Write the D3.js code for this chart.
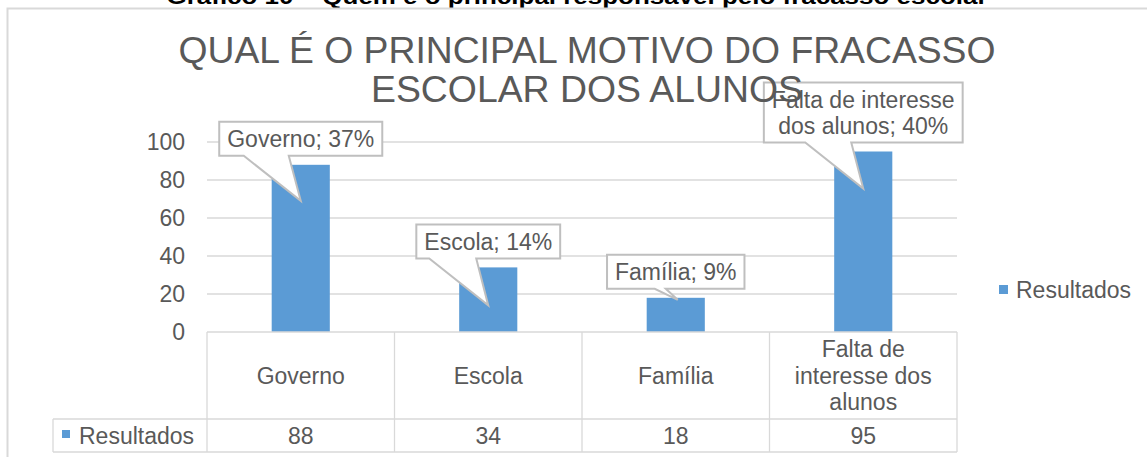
<!DOCTYPE html>
<html>
<head>
<meta charset="utf-8">
<script src="https://cdn.jsdelivr.net/npm/d3@7"></script>
<style>
	body { margin: 0; background: #fff; }
	svg text { font-family: "Liberation Sans", Arial, sans-serif; }
</style>
</head>
<body>
<div id="chart"></div>
<script>
// dados do gráfico
var categories = ["Governo", "Escola", "Família", "Falta de interesse dos alunos"];
var values = [88, 34, 18, 95];
var percents = [37, 14, 9, 40];
var yTicks = [0, 20, 40, 60, 80, 100];
var seriesName = "Resultados";
var titleLines = ["QUAL É O PRINCIPAL MOTIVO DO FRACASSO", "ESCOLAR DOS ALUNOS"];
var caption = "Gráfico 10 – Quem é o principal responsável pelo fracasso escolar";

var W = 1147, H = 457;
var gray = "#595959", gridColor = "#d9d9d9", barColor = "#5b9bd5";
var fs = 23; // tamanho da fonte do eixo / tabela

var svg = d3.select("#chart").append("svg").attr("width", W).attr("height", H);

// legenda de cima (cortada no original) + moldura do gráfico
svg.append("text").attr("x", 577).attr("y", 4).attr("text-anchor", "middle")
	.attr("font-size", 22).attr("font-weight", "bold").attr("fill", "#000")
	.attr("textLength", 821).attr("lengthAdjust", "spacingAndGlyphs").text(caption);
svg.append("path").attr("d", "M7.5," + H + "V8.5H" + W)
	.attr("fill", "none").attr("stroke", gridColor).attr("stroke-width", 2);

var plotLeft = 207, plotRight = 957, plotTop = 142, plotBottom = 332;
var x = d3.scaleBand().domain(categories).range([plotLeft, plotRight]).padding(0);
var y = d3.scaleLinear().domain([0, 100]).range([plotBottom, plotTop]);

// linhas de grade
svg.append("g").selectAll("line").data(yTicks.filter(function(d) { return d > 0; }))
	.enter().append("line")
	.attr("x1", plotLeft).attr("x2", plotRight)
	.attr("y1", function(d) { return y(d); }).attr("y2", function(d) { return y(d); })
	.attr("stroke", gridColor).attr("stroke-width", 1.3);

// eixo y
var yAxis = svg.append("g").attr("transform", "translate(" + plotLeft + ",0)")
	.call(d3.axisLeft(y).tickValues(yTicks).tickSize(0).tickPadding(22));
yAxis.select(".domain").remove();
yAxis.selectAll("text").attr("font-size", fs).attr("fill", gray)
	.style("font-family", "'Liberation Sans', Arial, sans-serif");

// barras
var barOff = 0.345, barW = 0.31;
svg.append("g").selectAll("rect").data(values).enter().append("rect")
	.attr("x", function(d, i) { return x(categories[i]) + x.bandwidth() * barOff; })
	.attr("width", x.bandwidth() * barW)
	.attr("y", function(d) { return y(d); })
	.attr("height", function(d) { return y(0) - y(d); })
	.attr("fill", barColor);

// tabela de dados
var rowTop = 419, rowBottom = 452, tableLeft = 53;
var tbl = svg.append("g").attr("stroke", gridColor).attr("stroke-width", 1.3);
tbl.append("line").attr("x1", plotLeft).attr("x2", plotRight).attr("y1", plotBottom).attr("y2", plotBottom);
tbl.append("line").attr("x1", tableLeft).attr("x2", plotRight).attr("y1", rowTop).attr("y2", rowTop);
tbl.append("line").attr("x1", tableLeft).attr("x2", plotRight).attr("y1", rowBottom).attr("y2", rowBottom);
tbl.append("line").attr("x1", tableLeft).attr("x2", tableLeft).attr("y1", rowTop).attr("y2", rowBottom);
tbl.selectAll("line.sep").data(categories.concat(["end"])).enter().append("line")
	.attr("x1", function(d, i) { return plotLeft + i * x.bandwidth(); })
	.attr("x2", function(d, i) { return plotLeft + i * x.bandwidth(); })
	.attr("y1", plotBottom).attr("y2", rowBottom);

// quebra de linha para os rótulos das categorias (mede o texto de verdade)
var measure = svg.append("text").attr("font-size", fs).attr("visibility", "hidden");
function textW(s) { measure.text(s); return measure.node().getComputedTextLength(); }
function wrap(str, maxW) {
	var words = str.split(" "), lines = [], cur = "";
	words.forEach(function(w) {
		var t = cur ? cur + " " + w : w;
		if (cur && textW(t) > maxW) { lines.push(cur); cur = w; } else { cur = t; }
	});
	lines.push(cur);
	return lines;
}
var catG = svg.append("g");
categories.forEach(function(c, i) {
	var lines = wrap(c, 150);
	var cy = (plotBottom + rowTop) / 2;
	var lh = 26.5;
	var t = catG.append("text").attr("text-anchor", "middle").attr("font-size", fs).attr("fill", gray);
	lines.forEach(function(l, k) {
		t.append("tspan").attr("x", x(c) + x.bandwidth() / 2)
			.attr("y", cy + (k - (lines.length - 1) / 2) * lh + fs * 0.36).text(l);
	});
});
measure.remove();
svg.append("g").selectAll("text").data(values).enter().append("text")
	.attr("x", function(d, i) { return x(categories[i]) + x.bandwidth() / 2; })
	.attr("y", (rowTop + rowBottom) / 2 + fs * 0.36)
	.attr("text-anchor", "middle").attr("font-size", fs).attr("fill", gray)
	.text(function(d) { return d; });
svg.append("rect").attr("x", 62).attr("y", 430).attr("width", 8).attr("height", 8).attr("fill", barColor);
svg.append("text").attr("x", 79).attr("y", (rowTop + rowBottom) / 2 + fs * 0.36)
	.attr("font-size", fs).attr("fill", gray).text(seriesName);

// legenda à direita
svg.append("rect").attr("x", 999).attr("y", 285).attr("width", 9).attr("height", 9).attr("fill", barColor);
svg.append("text").attr("x", 1016).attr("y", 290 + fs * 0.36)
	.attr("font-size", fs).attr("fill", gray).text(seriesName);

// balões dos rótulos de dados
var tipDy = [36, 38, 2, 37]; // ponta do balão abaixo do topo da barra
var callG = svg.append("g");
values.forEach(function(v, i) {
	var cx = x(categories[i]) + x.bandwidth() / 2;
	var label = categories[i] + "; " + percents[i] + "%";
	var lines = i === 3 ? ["Falta de interesse", "dos alunos; " + percents[i] + "%"] : [label];
	var g = callG.append("g");
	var txt = g.append("text").attr("text-anchor", "middle").attr("font-size", fs).attr("fill", gray);
	lines.forEach(function(l) { txt.append("tspan").attr("x", cx).text(l); });
	var tw = d3.max(txt.selectAll("tspan").nodes(), function(n) { return n.getComputedTextLength(); });
	var bw = tw + 16, bh = 8 + lines.length * 26;
	var bottom = y(v) - 9, top = bottom - bh, left = cx - bw / 2, right = cx + bw / 2;
	var tipX = cx + (i === 2 ? 2 : 0), tipY = y(v) + tipDy[i];
	var h = tipY - bottom;
	var b1 = tipX - 12 - h, b2 = tipX - 12;
	var p = d3.path();
	p.moveTo(left, top); p.lineTo(right, top); p.lineTo(right, bottom);
	p.lineTo(b2, bottom); p.lineTo(tipX, tipY); p.lineTo(b1, bottom);
	p.lineTo(left, bottom); p.closePath();
	g.insert("path", "text").attr("d", p.toString()).attr("fill", "#fff")
		.attr("stroke", "#bfbfbf").attr("stroke-width", 2);
	txt.selectAll("tspan").attr("y", function(d, k) { return top + 4 + 13 + k * 26 + fs * 0.36; });
});

// título
svg.append("g").selectAll("text").data(titleLines).enter().append("text")
	.attr("x", 587).attr("y", function(d, i) { return 63 + i * 39; })
	.attr("text-anchor", "middle").attr("font-size", 36).attr("fill", gray)
	.attr("textLength", function(d, i) { return i === 0 ? 817 : 432; })
	.attr("lengthAdjust", "spacingAndGlyphs")
	.text(function(d) { return d; });
</script>
</body>
</html>
